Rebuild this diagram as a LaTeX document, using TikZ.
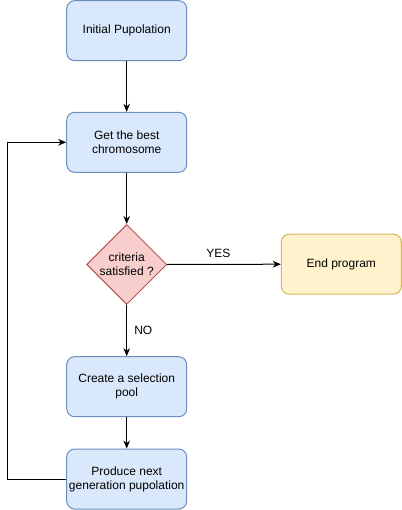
\documentclass[tikz,border=0pt]{standalone}
\usepackage{fontspec}
\setmainfont{Liberation Sans}
\usetikzlibrary{shapes.geometric,arrows.meta}
\definecolor{bluefill}{HTML}{DAE8FC}
\definecolor{blueline}{HTML}{6C8EBF}
\definecolor{redfill}{HTML}{F8CECC}
\definecolor{redline}{HTML}{B85450}
\definecolor{yellowfill}{HTML}{FFF2CC}
\definecolor{yellowline}{HTML}{D6B656}
\tikzset{
  stepbox/.style={draw=blueline, fill=bluefill, rounded corners=6pt, line width=0.75pt,
    minimum width=90pt, minimum height=45pt, inner xsep=1pt, align=center,
    font=\fontsize{9}{10.5}\selectfont},
  endbox/.style={stepbox, draw=yellowline, fill=yellowfill},
  testbox/.style={diamond, draw=redline, fill=redfill, line width=0.75pt,
    minimum width=60pt, minimum height=60pt, inner sep=0pt},
  flow/.style={-{Stealth[length=6pt,width=5pt]}, line width=0.75pt},
  lbl/.style={font=\fontsize{9}{10.5}\selectfont}
}
\begin{document}
\begin{tikzpicture}[x=0.75pt,y=-0.75pt]
\useasboundingbox (0,0) rectangle (402,510);
% boxes
\node[stepbox] (init) at (126.7,30.7) {Initial Pupolation};
\node[stepbox] (best) at (126.7,142.3) {Get the best\\chromosome};
\node[testbox, label={[lbl,align=center]center:criteria\\satisfied ?}] (crit) at (126.7,264.5) {};
\node[endbox] (endp) at (341.3,264.2) {End program};
\node[stepbox] (pool) at (126.7,386.7) {Create a selection\\pool};
\node[stepbox] (next) at (126.7,479) {Produce next\\generation pupolation};
\coordinate (loop) at (7.3,300);
% arrows
\draw[flow] (init) -- (best);
\draw[flow] (best) -- (crit);
\draw[flow] (crit.east) -- node[lbl,above,pos=0.45,yshift=1pt] {YES} (endp.west);
\draw[flow] (crit.south) -- node[lbl,right,xshift=2pt] {NO} (pool.north);
\draw[flow] (pool) -- (next);
\draw[flow] (next.west) -- (next.west -| loop) |- (best.west);
\end{tikzpicture}
\end{document}
